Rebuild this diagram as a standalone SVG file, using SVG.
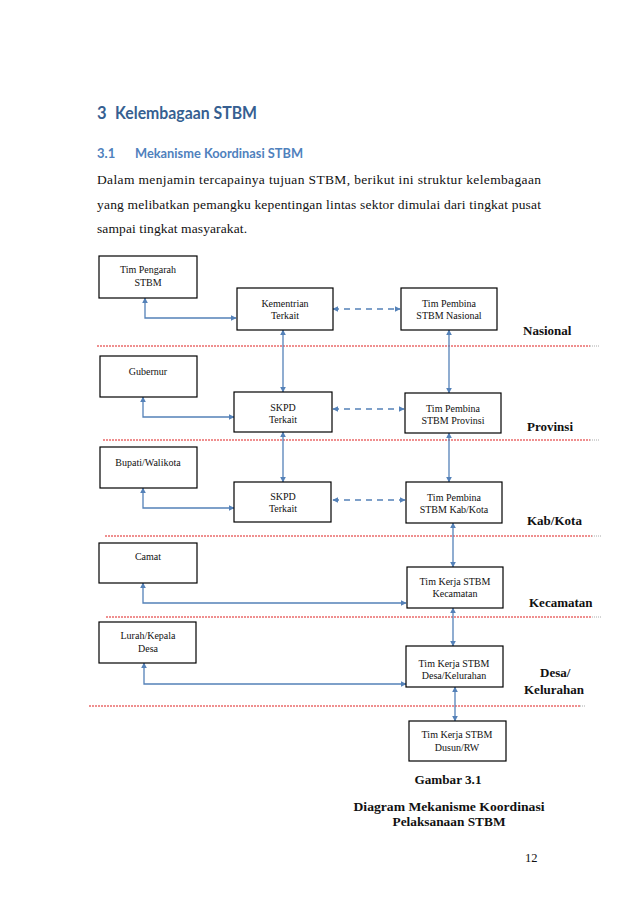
<svg xmlns="http://www.w3.org/2000/svg" width="638" height="903" viewBox="0 0 638 903">
<style>
.h1{font-family:Lato,"Open Sans","Liberation Sans",sans-serif;font-weight:bold;fill:#365F91}
.h2{font-family:Lato,"Open Sans","Liberation Sans",sans-serif;font-weight:bold;fill:#4F81BD}
.body{font-family:"Liberation Serif",serif;font-size:13.5px;fill:#111}
.box rect{fill:#fff;stroke:#000;stroke-width:1.2}
.box text{font-family:"Liberation Serif",serif;font-size:10px;fill:#111;text-anchor:middle}
.lvl{font-family:"Liberation Serif",serif;font-weight:bold;font-size:13px;fill:#111}
.cap{font-family:"Liberation Serif",serif;font-weight:bold;font-size:13px;fill:#111;text-anchor:middle}
.conn{fill:none;stroke:#5481B8;stroke-width:1.3}
.dash{stroke-dasharray:6 5}
.red{stroke:#E02020;stroke-width:1.2;stroke-dasharray:2 1;fill:none}
.gray{stroke:#AAAAAA;stroke-width:1;stroke-dasharray:1 1;fill:none}
</style>
<defs>
<marker id="ah" viewBox="0 0 10 10" refX="9" refY="5" markerWidth="6" markerHeight="6" orient="auto-start-reverse" markerUnits="userSpaceOnUse">
<path d="M0,0 L10,5 L0,10 z" fill="#5481B8"/>
</marker>
</defs>
<rect width="638" height="903" fill="#fff"/>

<text class="h1" x="97" y="119" font-size="16.5">3</text>
<text class="h1" x="115" y="119" font-size="16.5" textLength="142" lengthAdjust="spacingAndGlyphs">Kelembagaan STBM</text>
<text class="h2" x="97" y="158" font-size="13">3.1</text>
<text class="h2" x="135" y="158" font-size="13" textLength="168" lengthAdjust="spacingAndGlyphs">Mekanisme Koordinasi STBM</text>
<text class="body" x="97" y="184" textLength="444" lengthAdjust="spacing">Dalam menjamin tercapainya tujuan STBM, berikut ini struktur kelembagaan</text>
<text class="body" x="97" y="208.5" textLength="444" lengthAdjust="spacing">yang melibatkan pemangku kepentingan lintas sektor dimulai dari tingkat pusat</text>
<text class="body" x="97" y="233" textLength="150" lengthAdjust="spacing">sampai tingkat masyarakat.</text>

<g id="levels">
<path class="red" d="M97,346 H590"/><path class="gray" d="M590,346 H600"/>
<path class="red" d="M103,440 H590"/><path class="gray" d="M590,440 H599"/>
<path class="red" d="M105,536 H592"/><path class="gray" d="M592,536 H601"/>
<path class="red" d="M106,617 H592"/><path class="gray" d="M592,617 H601"/>
<path class="red" d="M89,706 H580"/><path class="gray" d="M580,706 H586"/>
<text class="lvl" x="523" y="335">Nasional</text>
<text class="lvl" x="527" y="431">Provinsi</text>
<text class="lvl" x="527" y="525">Kab/Kota</text>
<text class="lvl" x="529" y="607">Kecamatan</text>
<text class="lvl" x="540" y="677">Desa/</text>
<text class="lvl" x="524" y="694">Kelurahan</text>
</g>

<g id="connectors">
<path class="conn" d="M145,298 V318 H236" marker-start="url(#ah)" marker-end="url(#ah)"/>
<path class="conn dash" d="M333,309 H400" marker-start="url(#ah)" marker-end="url(#ah)"/>
<path class="conn" d="M283,330 V392" marker-start="url(#ah)" marker-end="url(#ah)"/>
<path class="conn" d="M449,330 V393" marker-start="url(#ah)" marker-end="url(#ah)"/>
<path class="conn" d="M143,397 V417 H234" marker-start="url(#ah)" marker-end="url(#ah)"/>
<path class="conn dash" d="M333,409 H404" marker-start="url(#ah)" marker-end="url(#ah)"/>
<path class="conn" d="M283,432 V482" marker-start="url(#ah)" marker-end="url(#ah)"/>
<path class="conn" d="M449,433 V482" marker-start="url(#ah)" marker-end="url(#ah)"/>
<path class="conn" d="M143,488 V508 H234" marker-start="url(#ah)" marker-end="url(#ah)"/>
<path class="conn dash" d="M333,500 H405" marker-start="url(#ah)" marker-end="url(#ah)"/>
<path class="conn" d="M453,523 V567" marker-start="url(#ah)" marker-end="url(#ah)"/>
<path class="conn" d="M143,583 V603 H406" marker-start="url(#ah)" marker-end="url(#ah)"/>
<path class="conn" d="M453,608 V646" marker-start="url(#ah)" marker-end="url(#ah)"/>
<path class="conn" d="M144,663 V684 H406" marker-start="url(#ah)" marker-end="url(#ah)"/>
<path class="conn" d="M455,687 V721" marker-start="url(#ah)" marker-end="url(#ah)"/>
</g>

<g id="tim-pengarah" class="box"><rect x="99" y="256" width="98" height="42"/><text x="148" y="273">Tim Pengarah</text><text x="148" y="286">STBM</text></g>
<g id="kementrian" class="box"><rect x="237" y="288" width="96" height="42"/><text x="285" y="307">Kementrian</text><text x="285" y="319">Terkait</text></g>
<g id="pembina-nasional" class="box"><rect x="401" y="288" width="96" height="42"/><text x="449" y="307">Tim Pembina</text><text x="449" y="319">STBM Nasional</text></g>

<g id="gubernur" class="box"><rect x="100" y="356" width="97" height="41"/><text x="148" y="375">Gubernur</text></g>
<g id="skpd-prov" class="box"><rect x="234" y="392" width="98" height="40"/><text x="283" y="411">SKPD</text><text x="283" y="423">Terkait</text></g>
<g id="pembina-prov" class="box"><rect x="405" y="393" width="96" height="40"/><text x="453" y="412">Tim Pembina</text><text x="453" y="424">STBM Provinsi</text></g>

<g id="bupati" class="box"><rect x="100" y="447" width="97" height="41"/><text x="148" y="466">Bupati/Walikota</text></g>
<g id="skpd-kab" class="box"><rect x="234" y="482" width="97" height="40"/><text x="283" y="500">SKPD</text><text x="283" y="512">Terkait</text></g>
<g id="pembina-kab" class="box"><rect x="406" y="482" width="96" height="41"/><text x="454" y="501">Tim Pembina</text><text x="454" y="513">STBM Kab/Kota</text></g>

<g id="camat" class="box"><rect x="99" y="543" width="98" height="40"/><text x="148" y="560">Camat</text></g>
<g id="kecamatan" class="box"><rect x="407" y="567" width="96" height="41"/><text x="455" y="585">Tim Kerja STBM</text><text x="455" y="597">Kecamatan</text></g>

<g id="lurah" class="box"><rect x="99" y="622" width="97" height="41"/><text x="148" y="639">Lurah/Kepala</text><text x="148" y="652">Desa</text></g>
<g id="desa" class="box"><rect x="406" y="646" width="97" height="41"/><text x="454" y="667">Tim Kerja STBM</text><text x="454" y="679">Desa/Kelurahan</text></g>

<g id="dusun" class="box"><rect x="409" y="721" width="97" height="40"/><text x="457" y="738">Tim Kerja STBM</text><text x="457" y="751">Dusun/RW</text></g>

<text class="cap" x="448" y="784" textLength="67" lengthAdjust="spacingAndGlyphs">Gambar 3.1</text>
<text class="cap" x="449" y="811" textLength="191" lengthAdjust="spacingAndGlyphs">Diagram Mekanisme Koordinasi</text>
<text class="cap" x="449" y="826" textLength="113" lengthAdjust="spacingAndGlyphs">Pelaksanaan STBM</text>
<text x="525" y="862" font-family="Liberation Serif, serif" font-size="12.5" fill="#111">12</text>
</svg>
